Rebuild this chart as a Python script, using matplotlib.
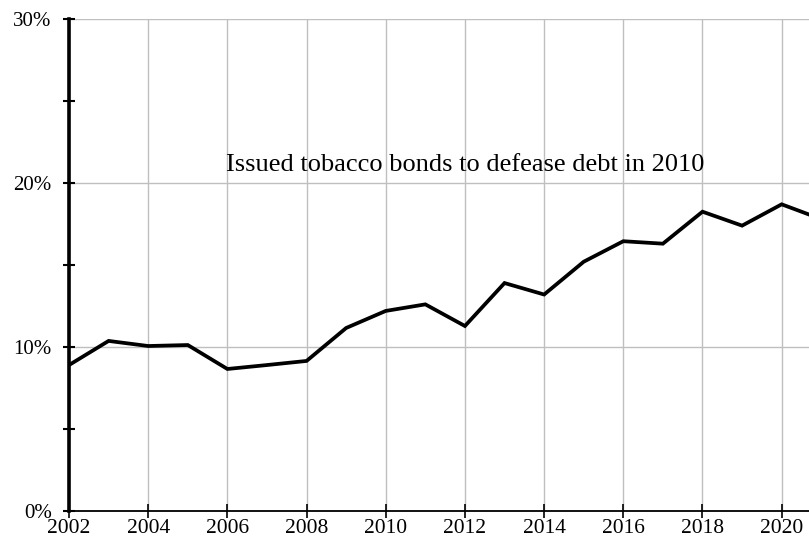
import matplotlib
matplotlib.use("Agg")
import matplotlib.pyplot as plt
from matplotlib.ticker import MultipleLocator, FuncFormatter

years = [2002, 2003, 2004, 2005, 2006, 2007, 2008, 2009, 2010, 2011, 2012,
         2013, 2014, 2015, 2016, 2017, 2018, 2019, 2020, 2021]
share = [8.9, 10.37, 10.06, 10.12, 8.66, 8.9, 9.15, 11.16, 12.2, 12.6, 11.28,
         13.9, 13.2, 15.2, 16.45, 16.3, 18.25, 17.4, 18.7, 17.8]
x_ticks = list(range(2002, 2021, 2))
annotation = "Issued tobacco bonds to defease debt in 2010"

plt.rcParams['font.family'] = ['Liberation Serif', 'DejaVu Serif']

fig = plt.figure(figsize=(8.09, 5.46), dpi=100)
ax = fig.add_axes([0.0853, 0.0641, 1 - 0.0853, 0.9652 - 0.0641])

ax.plot(years, share, color='black', lw=2.7, solid_joinstyle='miter', zorder=3)

ax.set_xlim(2002, 2020.69)
ax.set_ylim(0, 30)
ax.set_xticks(x_ticks)
ax.yaxis.set_major_locator(MultipleLocator(10))
ax.yaxis.set_minor_locator(MultipleLocator(5))
ax.yaxis.set_major_formatter(FuncFormatter(lambda v, p: f"{v:.0f}%"))

ax.grid(True, which='major', color='#bfbfbf', lw=1.0, zorder=0)
ax.set_axisbelow(True)

for s in ['top', 'right']:
    ax.spines[s].set_visible(False)
ax.spines['left'].set_linewidth(2.6)
ax.spines['bottom'].set_linewidth(1.3)
ax.spines['left'].set_zorder(4)

ax.tick_params(axis='y', which='both', direction='inout', length=9, width=1.5,
               labelsize=15, pad=8)
ax.tick_params(axis='x', which='major', direction='inout', length=10, width=1.2,
               labelsize=15.5, pad=1)

ax.text(2012, 21.1, annotation, ha='center', va='center', fontsize=19)

fig.savefig("out.png", dpi=100)
